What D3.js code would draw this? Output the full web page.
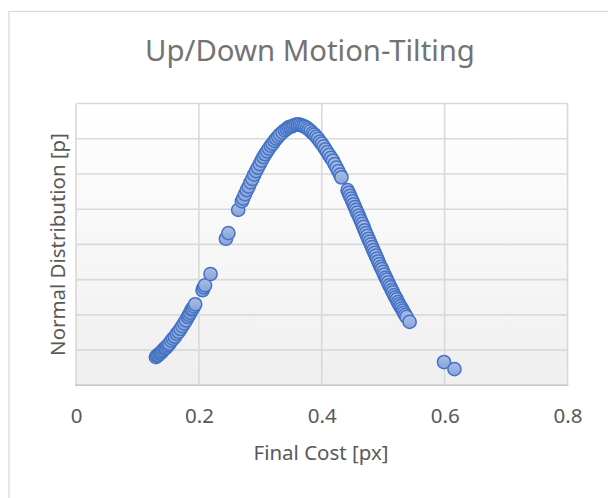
<!DOCTYPE html>
<html lang="en">
<head>
  <meta charset="utf-8" />
  <title>Up/Down Motion-Tilting</title>
  <style>
    html,body{margin:0;padding:0;background:#fff;}
    #chart{display:block;}
    text{font-family:"Noto Sans","Open Sans","DejaVu Sans",sans-serif;fill:#595959;}
  </style>
</head>
<body>
  <svg id="chart" width="608" height="498"></svg>

  <script src="https://d3js.org/d3.v7.min.js"></script>
  <script>
    // ————— DATA —————
    const chartTitle = 'Up/Down Motion-Tilting';
    const xTitle = 'Final Cost [px]';
    const yTitle = 'Normal Distribution [p]';
    const xTicks = [0, 0.2, 0.4, 0.6, 0.8];
    const yTicks = [0, 0.5, 1, 1.5, 2, 2.5, 3, 3.5, 4];

    const finalCost = [
      0.130,0.132,0.134,0.136,0.138,0.140,0.142,0.144,0.146,0.148,0.150,0.152,0.155,0.158,0.161,0.164,0.167,0.170,
      0.173,0.176,0.179,0.182,0.184,0.186,0.188,0.190,0.192,0.194,0.206,0.208,0.210,0.219,0.244,0.248,0.264,
      0.270,0.272,0.275,0.278,0.281,0.284,0.287,0.290,0.293,0.296,0.299,0.302,0.305,0.308,0.311,0.314,0.317,
      0.320,0.323,0.326,0.329,0.332,0.336,0.340,0.343,0.346,0.349,0.352,0.355,0.358,0.361,0.364,0.367,0.370,
      0.373,0.376,0.379,0.382,0.385,0.388,0.391,0.394,0.397,0.400,0.403,0.406,0.409,0.412,0.415,0.418,0.421,
      0.424,0.427,0.430,0.432,0.442,0.444,0.446,0.448,0.450,0.452,0.454,0.456,0.458,0.460,0.462,0.464,0.466,
      0.468,0.470,0.472,0.474,0.476,0.478,0.480,0.482,0.484,0.486,0.488,0.490,0.492,0.494,0.496,0.498,0.500,
      0.502,0.504,0.506,0.508,0.510,0.512,0.514,0.516,0.518,0.520,0.522,0.524,0.526,0.528,0.530,0.532,0.534,
      0.536,0.538,0.543,0.599,0.616
    ];
    const normalDist = [
      0.40,0.42,0.43,0.45,0.46,0.48,0.50,0.52,0.53,0.55,0.57,0.59,0.63,0.66,0.69,0.73,0.76,0.80,
      0.84,0.88,0.92,0.97,1.00,1.03,1.07,1.09,1.12,1.15,1.35,1.39,1.42,1.58,2.08,2.16,2.49,
      2.61,2.65,2.71,2.77,2.82,2.88,2.93,2.99,3.04,3.09,3.14,3.19,3.24,3.28,3.32,3.36,3.40,
      3.43,3.47,3.50,3.53,3.56,3.59,3.62,3.64,3.66,3.67,3.68,3.69,3.70,3.70,3.70,3.69,3.68,
      3.67,3.65,3.63,3.61,3.58,3.56,3.53,3.50,3.46,3.43,3.39,3.35,3.31,3.27,3.23,3.19,3.14,
      3.09,3.04,2.99,2.95,2.77,2.73,2.69,2.65,2.61,2.57,2.53,2.49,2.45,2.41,2.37,2.33,2.29,
      2.25,2.20,2.16,2.12,2.08,2.04,2.00,1.96,1.92,1.88,1.84,1.80,1.76,1.72,1.68,1.65,1.61,
      1.57,1.53,1.50,1.46,1.42,1.39,1.35,1.32,1.28,1.25,1.22,1.18,1.15,1.12,1.09,1.06,1.03,
      1.00,0.97,0.90,0.33,0.23
    ];

    // ————— LAYOUT —————
    const svg = d3.select('#chart');
    const plot = {left:76, right:567.5, top:103.5, bottom:385.3};
    const x = d3.scaleLinear().domain([0,0.8]).range([plot.left,plot.right]);
    const y = d3.scaleLinear().domain([0,4]).range([plot.bottom,plot.top]);

    // scale a text's font size so it spans the width seen in the reference
    function fitWidth(sel, w){
      const n = sel.node(), fs = parseFloat(sel.style('font-size'));
      sel.style('font-size', (fs*w/n.getComputedTextLength())+'px');
    }

    const defs = svg.append('defs');
    const bg = defs.append('linearGradient').attr('id','plotBg').attr('x1',0).attr('y1',0).attr('x2',0).attr('y2',1);
    bg.append('stop').attr('offset','0%').attr('stop-color','#ffffff');
    bg.append('stop').attr('offset','100%').attr('stop-color','#efefef');
    const mk = defs.append('linearGradient').attr('id','markerFill').attr('x1',0).attr('y1',0).attr('x2',0).attr('y2',1);
    mk.append('stop').attr('offset','0%').attr('stop-color','#aabde6');
    mk.append('stop').attr('offset','100%').attr('stop-color','#8aa4d9');

    // chart area border (runs off the right/bottom of the picture)
    svg.append('rect').attr('x',9).attr('y',11.5).attr('width',700).attr('height',600)
      .attr('fill','#fff').attr('stroke','#d9d9d9').attr('stroke-width',1.2);

    // plot background
    svg.append('rect').attr('x',plot.left).attr('y',plot.top)
      .attr('width',plot.right-plot.left).attr('height',plot.bottom-plot.top).attr('fill','url(#plotBg)');

    // ————— GRID —————
    const grid = svg.append('g').attr('stroke','#d9d9d9').attr('stroke-width',1.6);
    grid.selectAll('line.h').data(yTicks).join('line').attr('class','h')
      .attr('x1',plot.left).attr('x2',plot.right).attr('y1',d=>y(d)).attr('y2',d=>y(d));
    grid.selectAll('line.v').data(xTicks).join('line').attr('class','v')
      .attr('x1',d=>x(d)).attr('x2',d=>x(d)).attr('y1',plot.top).attr('y2',plot.bottom);
    svg.append('line').attr('x1',plot.left-0.8).attr('x2',plot.right+0.8).attr('y1',y(0)).attr('y2',y(0))
      .attr('stroke','#c8c8c8').attr('stroke-width',1.6);

    // ————— AXES —————
    const xAxis = svg.append('g').attr('transform',`translate(0,${plot.bottom})`)
      .call(d3.axisBottom(x).tickValues(xTicks).tickFormat(d3.format('')).tickSize(0).tickPadding(23));
    xAxis.select('.domain').remove();
    xAxis.selectAll('text').attr('fill','#595959').style('font-size','20.5px').attr('font-family',null);

    // ————— POINTS —————
    const pts = d3.zip(finalCost, normalDist);
    svg.append('g').selectAll('circle').data(pts).join('circle')
      .attr('cx',d=>x(d[0])).attr('cy',d=>y(d[1])).attr('r',6.6)
      .attr('fill','url(#markerFill)').attr('stroke','#4472c4').attr('stroke-width',1.5);

    // ————— TITLES —————
    const t = svg.append('text').attr('x',310).attr('y',61).attr('text-anchor','middle')
      .style('font-size','24px').style('fill','#737373').text(chartTitle);
    fitWidth(t,330);
    const xt = svg.append('text').attr('x',321).attr('y',459.5).attr('text-anchor','middle')
      .style('font-size','17px').text(xTitle);
    fitWidth(xt,135);
    const yt = svg.append('text').attr('transform','translate(65,244.5) rotate(-90)').attr('text-anchor','middle')
      .style('font-size','17px').text(yTitle);
    fitWidth(yt,223);
  </script>
</body>
</html>
